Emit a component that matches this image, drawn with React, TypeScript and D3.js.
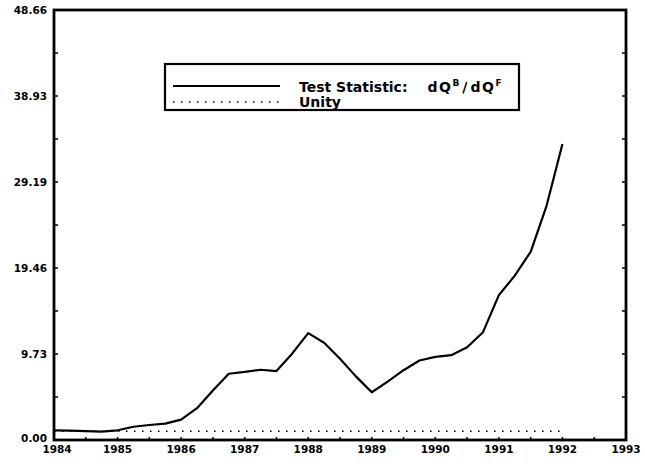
import React from "react";
import * as d3 from "d3";

const quarters: number[] = [
  1984.0, 1984.25, 1984.5, 1984.75, 1985.0, 1985.25, 1985.5, 1985.75,
  1986.0, 1986.25, 1986.5, 1986.75, 1987.0, 1987.25, 1987.5, 1987.75,
  1988.0, 1988.25, 1988.5, 1988.75, 1989.0, 1989.25, 1989.5, 1989.75,
  1990.0, 1990.25, 1990.5, 1990.75, 1991.0, 1991.25, 1991.5, 1991.75,
  1992.0,
];
const testStatistic: number[] = [
  1.1, 1.05, 1.0, 0.95, 1.1, 1.5, 1.7, 1.85,
  2.3, 3.6, 5.6, 7.5, 7.7, 7.95, 7.8, 9.8,
  12.1, 11.0, 9.2, 7.2, 5.4, 6.6, 7.9, 9.0,
  9.4, 9.6, 10.5, 12.2, 16.4, 18.6, 21.3, 26.5,
  33.5,
];
const unityYears: number[] = [1984, 1992];
const unityValues: number[] = [1, 1];
const yTickValues: number[] = [0, 9.73, 19.46, 29.19, 38.93, 48.66];
const yTickLabels: string[] = ["0.00", "9.73", "19.46", "29.19", "38.93", "48.66"];
const xTickYears: number[] = [1984, 1985, 1986, 1987, 1988, 1989, 1990, 1991, 1992, 1993];
const legendLabels: string[] = ["Test Statistic:", "Unity"];

export default function App() {
  const W = 645, H = 470;
  const L = 54, R = 626, T = 10, B = 440;
  const x = d3.scaleLinear().domain([1984, 1993]).range([L, R]);
  const y = d3.scaleLinear().domain([0, 48.66]).range([B, T]);
  const line = d3.line<[number, number]>().x(d => x(d[0])).y(d => y(d[1]));
  const testPts = quarters.map((q, i) => [q, testStatistic[i]] as [number, number]);
  const unityPts = unityYears.map((q, i) => [q, unityValues[i]] as [number, number]);
  const minorY = d3.range(0, 11).map(i => (i * 48.66) / 10);
  const minorX = d3.range(0, 19).map(i => 1984 + i * 0.5);
  const font = "'DejaVu Sans', 'Liberation Sans', Arial, sans-serif";

  return (
    <svg width={W} height={H} style={{ position: "absolute", left: 0, top: 0, background: "#fff" }}>
      <rect x={0} y={0} width={W} height={H} fill="#fff" />
      {/* ticks */}
      {minorY.map((v, i) => (
        <g key={"yt" + i}>
          <line x1={L} x2={L + 4} y1={y(v)} y2={y(v)} stroke="#000" strokeWidth={1.5} />
          <line x1={R} x2={R - 4} y1={y(v)} y2={y(v)} stroke="#000" strokeWidth={1.5} />
        </g>
      ))}
      {minorX.map((v, i) => (
        <line key={"xt" + i} x1={x(v)} x2={x(v)} y1={B} y2={B - 3} stroke="#000" strokeWidth={1.5} />
      ))}
      {/* frame */}
      <rect x={L} y={T} width={R - L} height={B - T} fill="none" stroke="#000" strokeWidth={2.8} />
      {/* y labels */}
      {yTickValues.map((v, i) => (
        <text key={"yl" + i} x={47} y={y(v) + (i === 0 ? 2 : 4)} textAnchor="end"
          fontFamily={font} fontWeight="bold" fontSize={10.5}>{yTickLabels[i]}</text>
      ))}
      {/* x labels */}
      {xTickYears.map((v, i) => (
        <text key={"xl" + i} x={x(v) + (i === 0 ? 3 : 0)} y={453} textAnchor="middle"
          fontFamily={font} fontWeight="bold" fontSize={10.5}>{String(v)}</text>
      ))}
      {/* series */}
      <path d={line(unityPts) || ""} fill="none" stroke="#000" strokeWidth={1.5} strokeDasharray="1.5 6.5" />
      <path d={line(testPts) || ""} fill="none" stroke="#000" strokeWidth={2.2} strokeLinejoin="round" />
      {/* legend */}
      <rect x={165} y={64} width={354} height={46} fill="#fff" stroke="#000" strokeWidth={2.2} />
      <line x1={173} x2={280} y1={86} y2={86} stroke="#000" strokeWidth={2.2} />
      <line x1={173} x2={280} y1={102} y2={102} stroke="#000" strokeWidth={1.5} strokeDasharray="1.5 6.5" />
      <text x={299} y={92} fontFamily={font} fontWeight="bold" fontSize={14}>
        {legendLabels[0]}
        <tspan dx={20} letterSpacing={1.5}>dQ</tspan>
        <tspan dy={-6} fontSize={9}>B</tspan>
        <tspan dy={6} dx={3}>/</tspan>
        <tspan dx={3} letterSpacing={1.5}>dQ</tspan>
        <tspan dy={-6} fontSize={9}>F</tspan>
      </text>
      <text x={299} y={107} fontFamily={font} fontWeight="bold" fontSize={14}>{legendLabels[1]}</text>
    </svg>
  );
}
